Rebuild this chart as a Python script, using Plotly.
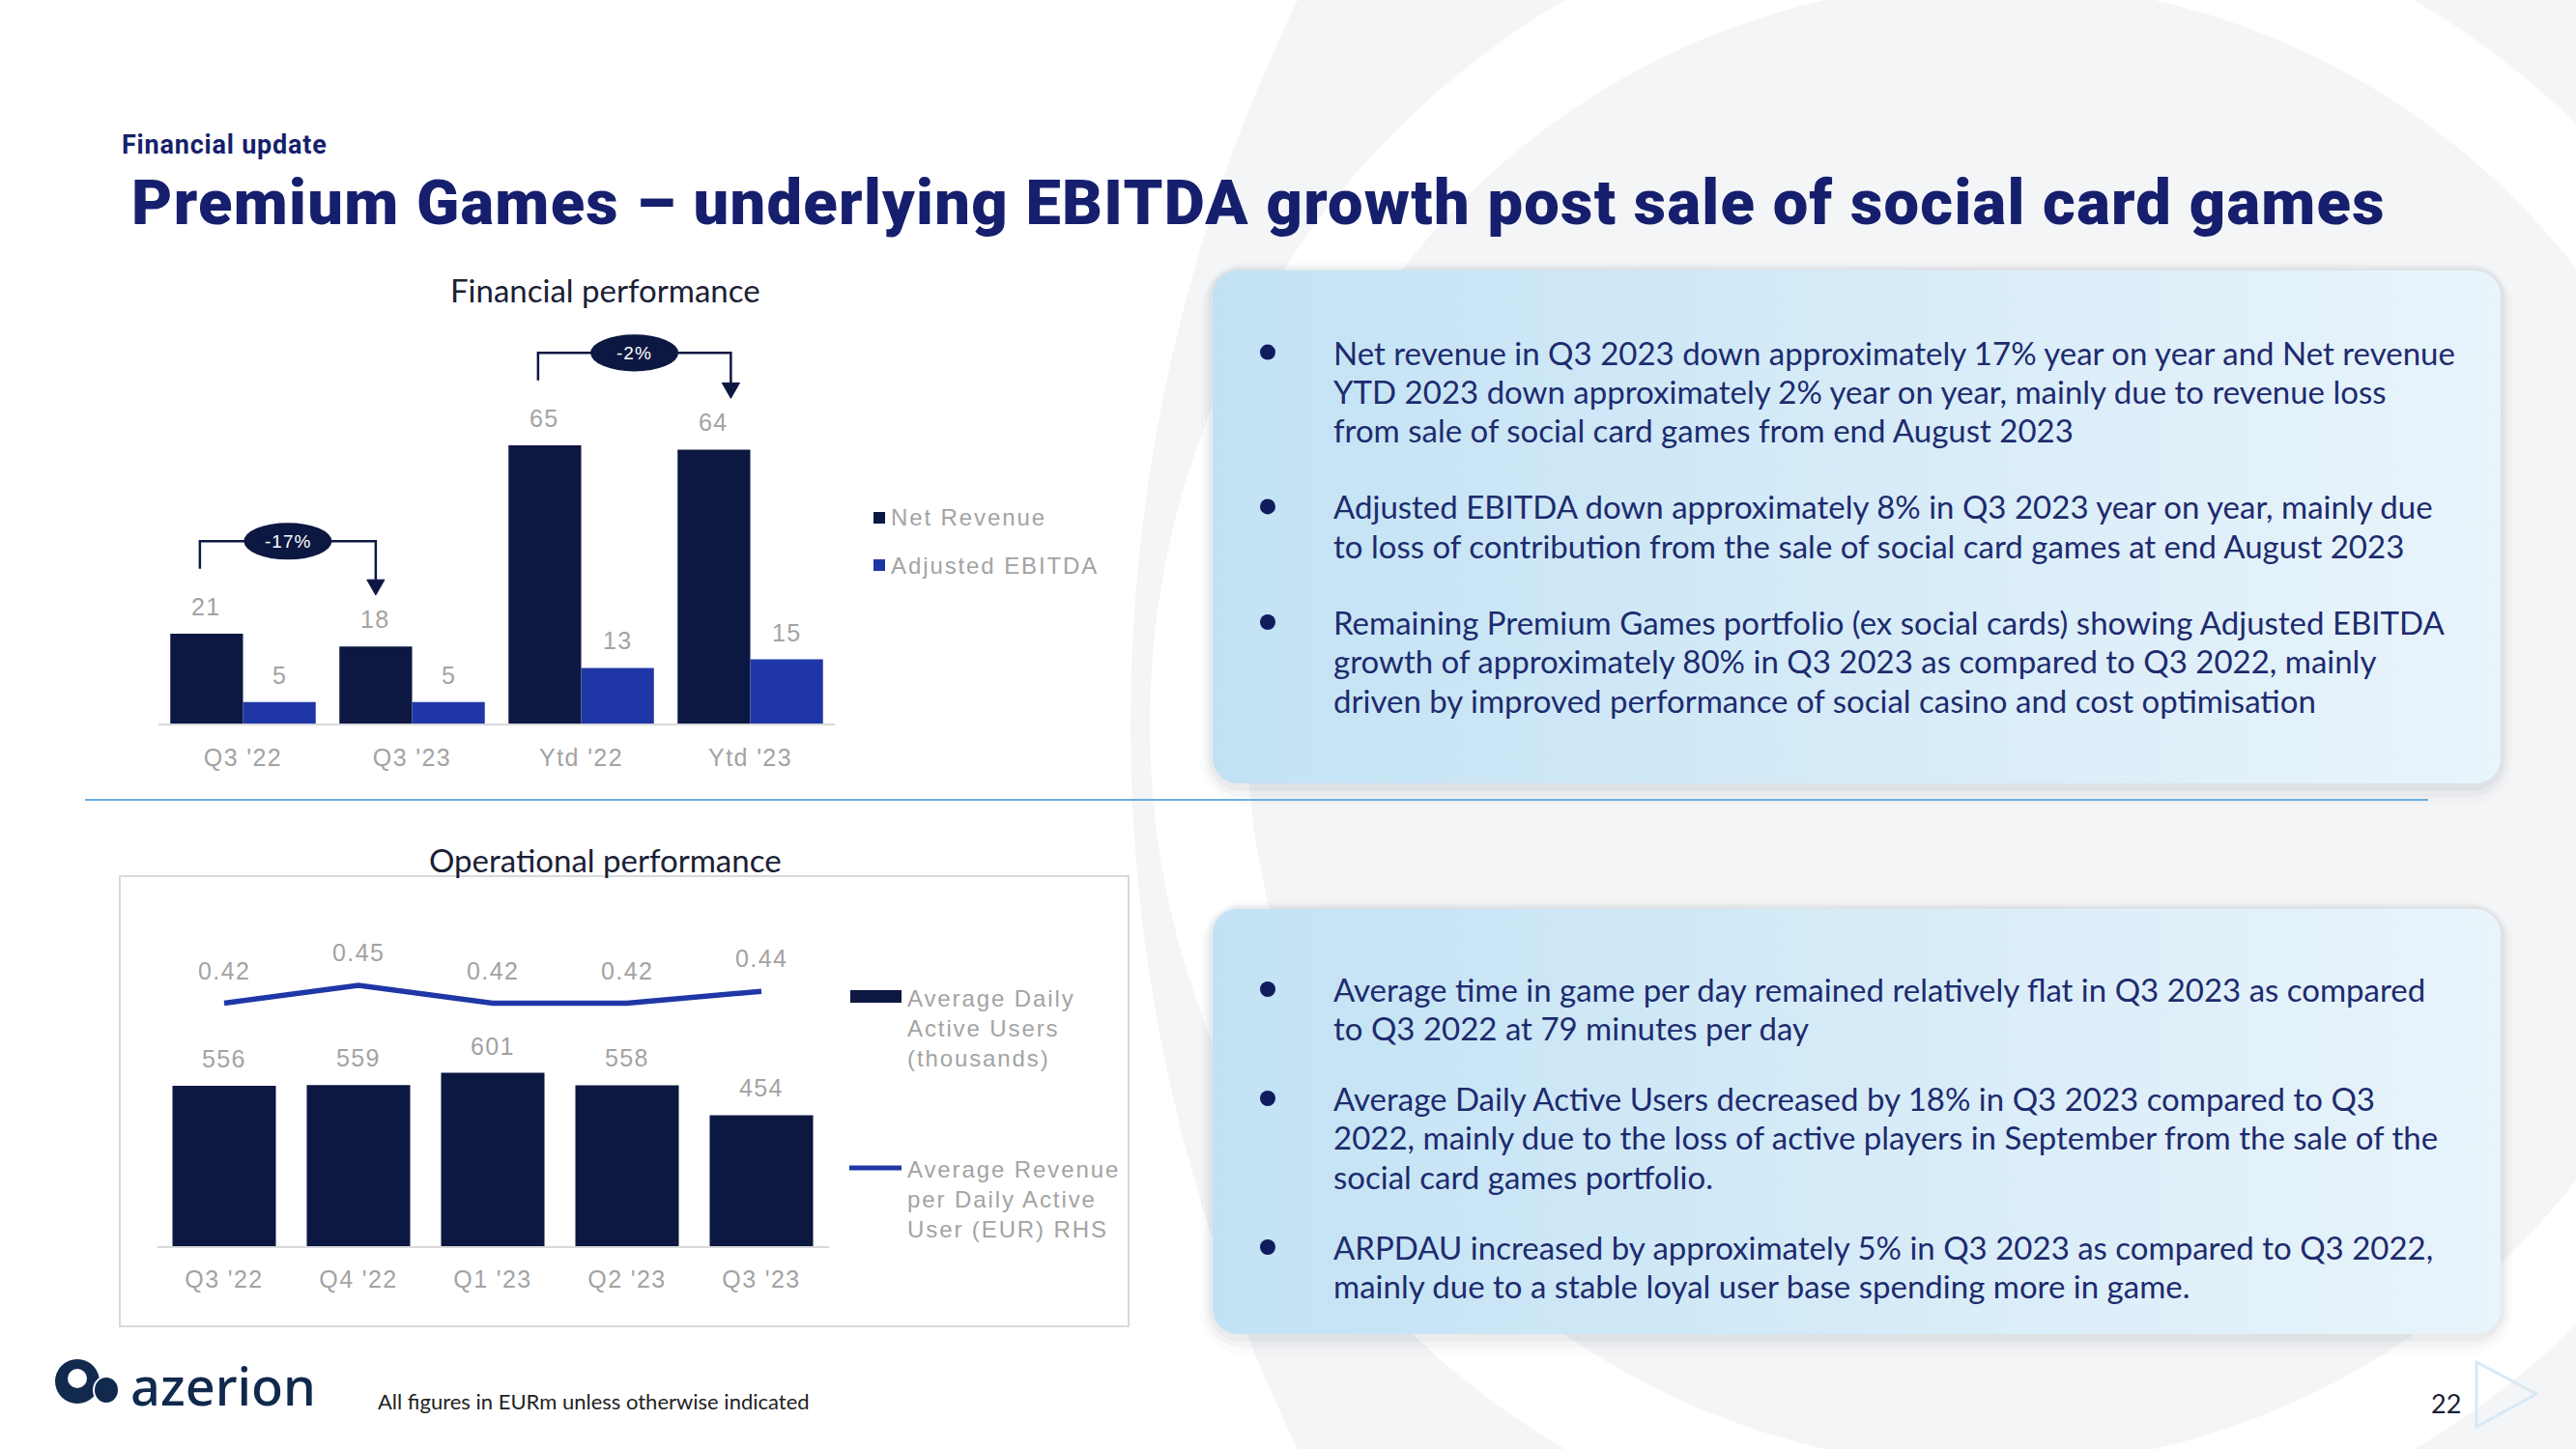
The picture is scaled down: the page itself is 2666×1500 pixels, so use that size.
import numpy as np
import plotly.graph_objects as go

W, H = 2666, 1500

# ---------------- data ----------------
fin_categories = ["Q3 '22", "Q3 '23", "Ytd '22", "Ytd '23"]
net_revenue = [21, 18, 65, 64]
adj_ebitda = [5, 5, 13, 15]
fin_changes = ["-17%", "-2%"]          # Q3'22 -> Q3'23, Ytd'22 -> Ytd'23
fin_change_pairs = [(0, 1), (2, 3)]

op_categories = ["Q3 '22", "Q4 '22", "Q1 '23", "Q2 '23", "Q3 '23"]
dau_thousands = [556, 559, 601, 558, 454]
arpdau_eur = [0.42, 0.45, 0.42, 0.42, 0.44]

fin_legend = ["Net Revenue", "Adjusted EBITDA"]
op_legend = ["Average Daily<br>Active Users<br>(thousands)",
             "Average Revenue<br>per Daily Active<br>User (EUR) RHS"]

bullets_top = [
    "Net revenue in Q3 2023 down approximately 17% year on year and Net revenue<br>"
    "YTD 2023 down approximately 2% year on year, mainly due to revenue loss<br>"
    "from sale of social card games from end August 2023",
    "Adjusted EBITDA down approximately 8% in Q3 2023 year on year, mainly due<br>"
    "to loss of contribution from the sale of social card games at end August 2023",
    "Remaining Premium Games portfolio (ex social cards) showing Adjusted EBITDA<br>"
    "growth of approximately 80% in Q3 2023 as compared to Q3 2022, mainly<br>"
    "driven by improved performance of social casino and cost optimisation",
]
bullets_bottom = [
    "Average time in game per day remained relatively flat in Q3 2023 as compared<br>"
    "to Q3 2022 at 79 minutes per day",
    "Average Daily Active Users decreased by 18% in Q3 2023 compared to Q3<br>"
    "2022, mainly due to the loss of active players in September from the sale of the<br>"
    "social card games portfolio.",
    "ARPDAU increased by approximately 5% in Q3 2023 as compared to Q3 2022,<br>"
    "mainly due to a stable loyal user base spending more in game.",
]

# ---------------- style ----------------
NAVY = "#0c1742"
BLUE = "#1f37a6"
LABEL_GRAY = "#a3a3a3"
AXIS_GRAY = "#d9d9d9"
TITLE_C = "#161f6d"
BODY_C = "#1d2b6e"
DARK = "#1a2035"
CHART_FONT = "Liberation Sans, Arial, sans-serif"
BODY_FONT = "Lato, 'Open Sans', sans-serif"
HEAD_FONT = "Roboto, Lato, sans-serif"
BARGAP = 0.14
LBL_SIZE, LBL_SP = 25, 1.4
LEG_SIZE, LEG_SP = 24, 1.9


def px(x):
    return x / W


def py(y):
    return 1 - y / H


def spaced(t, s=2):
    return f'<span style="letter-spacing:{s}px">{t}</span>'


def rrect(x0, y0, x1, y1, r, n=14):
    xs, ys = [], []
    for cx, cy, a0, a1 in [(x1 - r, y0 + r, -90, 0), (x1 - r, y1 - r, 0, 90),
                           (x0 + r, y1 - r, 90, 180), (x0 + r, y0 + r, 180, 270)]:
        t = np.radians(np.linspace(a0, a1, n))
        xs += list(cx + r * np.cos(t))
        ys += list(cy + r * np.sin(t))
    xs.append(xs[0])
    ys.append(ys[0])
    return xs, ys


def note(x, y, text, size, color, family=BODY_FONT, xanchor="center", **kw):
    return dict(x=px(x), y=py(y), xref="paper", yref="paper", text=text, showarrow=False,
                xanchor=xanchor, yanchor="middle", align="left",
                font=dict(family=family, size=size, color=color, **kw))


fig = go.Figure()

# ---------- decoration: text boxes with shadow + gradient ----------
boxes = [(1255, 280, 2588, 811), (1255, 941, 2588, 1381)]
for (x0, y0, x1, y1) in boxes:
    for k, a in [(20, 0.025), (13, 0.035), (7, 0.05)]:
        xs, ys = rrect(x0 - k * 0.6, y0 - k * 0.4, x1 + k * 0.6, y1 + k * 1.1, 26 + k)
        fig.add_trace(go.Scatter(x=xs, y=ys, mode="lines", line=dict(width=0),
                                 fill="toself", fillcolor=f"rgba(60,70,90,{a})",
                                 xaxis="x4", yaxis="y4", hoverinfo="skip", showlegend=False))
    xs, ys = rrect(x0, y0, x1, y1, 26)
    fig.add_trace(go.Scatter(x=xs, y=ys, mode="lines", line=dict(width=0),
                             fill="toself",
                             fillgradient=dict(type="horizontal",
                                               colorscale=[[0, "#c2e2f4"], [1, "#e9f4fb"]]),
                             xaxis="x4", yaxis="y4", hoverinfo="skip", showlegend=False))

# ---------- top chart: financial performance ----------
xi_fin = list(range(len(fin_categories)))
fig.add_trace(go.Bar(x=xi_fin, y=net_revenue, name=fin_legend[0], marker_color=NAVY,
                     marker_line_width=0, xaxis="x", yaxis="y", hoverinfo="skip",
                     showlegend=False))
fig.add_trace(go.Bar(x=xi_fin, y=adj_ebitda, name=fin_legend[1], marker_color=BLUE,
                     marker_line_width=0, xaxis="x", yaxis="y", hoverinfo="skip",
                     showlegend=False))

# ---------- bottom chart: operational performance ----------
xi_op = list(range(len(op_categories)))
fig.add_trace(go.Bar(x=xi_op, y=dau_thousands, width=0.77, marker_color=NAVY,
                     marker_line_width=0, xaxis="x2", yaxis="y2", hoverinfo="skip",
                     showlegend=False))
fig.add_trace(go.Scatter(x=xi_op, y=arpdau_eur, mode="lines",
                         line=dict(color=BLUE, width=5.5), xaxis="x2", yaxis="y3",
                         hoverinfo="skip", showlegend=False))

ann = []
shapes = []

# background ring decoration
shapes.append(dict(type="circle", xref="paper", yref="paper", layer="below",
                   x0=px(2882 - 1712), x1=px(2882 + 1712), y0=py(750 - 1712), y1=py(750 + 1712),
                   fillcolor="#f4f5f7", line=dict(width=0)))
shapes.append(dict(type="circle", xref="paper", yref="paper", layer="below",
                   x0=px(2059 - 819), x1=px(2059 + 819), y0=py(750 - 819), y1=py(750 + 819),
                   fillcolor="rgba(0,0,0,0)", line=dict(color="white", width=100)))
# bottom chart frame
shapes.append(dict(type="rect", xref="paper", yref="paper", layer="below",
                   x0=px(124), x1=px(1168), y0=py(907), y1=py(1373),
                   fillcolor="white", line=dict(color=AXIS_GRAY, width=2)))
# divider
shapes.append(dict(type="line", xref="paper", yref="paper",
                   x0=px(88), x1=px(2513), y0=py(828), y1=py(828),
                   line=dict(color="#6aaee0", width=2)))
# play triangle
shapes.append(dict(type="path", xref="paper", yref="paper", layer="below",
                   path=f"M {px(2563)},{py(1410)} L {px(2625)},{py(1443)} L {px(2563)},{py(1477)} Z",
                   line=dict(color="#d9e9f5", width=3)))

# data labels top chart
nr_off = -(1 - BARGAP) / 4
lbl_font = dict(family=CHART_FONT, size=LBL_SIZE, color=LABEL_GRAY)
for i in xi_fin:
    ann.append(dict(x=i + nr_off, y=net_revenue[i], xref="x", yref="y", yshift=28,
                    text=spaced(str(net_revenue[i]), LBL_SP), showarrow=False,
                    yanchor="middle", font=lbl_font))
    ann.append(dict(x=i - nr_off, y=adj_ebitda[i], xref="x", yref="y", yshift=28,
                    text=spaced(str(adj_ebitda[i]), LBL_SP), showarrow=False,
                    yanchor="middle", font=lbl_font))

# change brackets
dx_left = [-0.04, -0.04]
dx_right = [0.0, 0.1]
for k, ((a, b), lab) in enumerate(zip(fin_change_pairs, fin_changes)):
    xl = a + nr_off + dx_left[k]
    xr = b + nr_off + dx_right[k]
    yb = net_revenue[a] + 15.2
    yt = net_revenue[a] + 21.6
    tip = net_revenue[b] + 12.0
    ah = 3.6
    shapes.append(dict(type="path", xref="x", yref="y",
                       path=f"M {xl},{yb} L {xl},{yt} L {xr},{yt} L {xr},{tip + ah}",
                       line=dict(color=NAVY, width=2.5)))
    shapes.append(dict(type="path", xref="x", yref="y",
                       path=f"M {xr - 0.052},{tip + ah} L {xr + 0.052},{tip + ah} L {xr},{tip} Z",
                       fillcolor=NAVY, line=dict(color=NAVY, width=1)))
    xm = (xl + xr) / 2
    shapes.append(dict(type="circle", xref="x", yref="y",
                       x0=xm - 0.26, x1=xm + 0.26, y0=yt - 4.3, y1=yt + 4.3,
                       fillcolor=NAVY, line=dict(width=0)))
    ann.append(dict(x=xm, y=yt, xref="x", yref="y", text=spaced(lab, 1), showarrow=False,
                    yanchor="middle", font=dict(family=CHART_FONT, size=19, color="white")))

# data labels bottom chart
for i in xi_op:
    ann.append(dict(x=i, y=dau_thousands[i], xref="x2", yref="y2", yshift=28,
                    text=spaced(str(dau_thousands[i]), LBL_SP), showarrow=False,
                    yanchor="middle", font=lbl_font))
    ann.append(dict(x=i, y=arpdau_eur[i], xref="x2", yref="y3", yshift=34,
                    text=spaced(f"{arpdau_eur[i]:.2f}", LBL_SP), showarrow=False,
                    yanchor="middle", font=lbl_font))

# legends (manual)
for yc, col, lab in [(536, NAVY, fin_legend[0]), (585, BLUE, fin_legend[1])]:
    shapes.append(dict(type="rect", xref="paper", yref="paper", x0=px(904), x1=px(916),
                       y0=py(yc - 6), y1=py(yc + 6), fillcolor=col, line=dict(width=0)))
    ann.append(note(920, yc, spaced(lab, LEG_SP), LEG_SIZE, LABEL_GRAY, CHART_FONT, "left"))
shapes.append(dict(type="rect", xref="paper", yref="paper", x0=px(880), x1=px(933),
                   y0=py(1025), y1=py(1038), fillcolor=NAVY, line=dict(width=0)))
ann.append(note(937, 1064, spaced(op_legend[0], LEG_SP), LEG_SIZE, LABEL_GRAY, CHART_FONT, "left"))
shapes.append(dict(type="line", xref="paper", yref="paper", x0=px(879), x1=px(933),
                   y0=py(1209), y1=py(1209), line=dict(color=BLUE, width=5)))
ann.append(note(937, 1241, spaced(op_legend[1], LEG_SP), LEG_SIZE, LABEL_GRAY, CHART_FONT, "left"))

# headings
ann.append(note(124, 150, spaced("Financial update", 0.8), 27, TITLE_C, HEAD_FONT, "left",
                weight=700))
ann.append(note(134, 210,
                spaced("Premium Games – underlying EBITDA growth post sale of social card games", 1.3),
                65, TITLE_C, HEAD_FONT, "left", weight=900))
ann.append(note(626, 300, "Financial performance", 33, DARK))
ann.append(note(626, 890, "Operational performance", 33, DARK))

# bullets
LINE_STEP = 40.3
bullet_first = [364.6, 524.4, 644, 1024, 1137, 1291]
for txt, yf in zip(bullets_top + bullets_bottom, bullet_first):
    for j, line in enumerate(txt.split("<br>")):
        ann.append(note(1378, yf + j * LINE_STEP, line, 33, BODY_C, BODY_FONT, "left"))
    shapes.append(dict(type="circle", xref="paper", yref="paper",
                       x0=px(1304), x1=px(1320), y0=py(yf - 8), y1=py(yf + 8),
                       fillcolor="#0f1d5e", line=dict(width=0)))

# footer
ann.append(note(389, 1450, "All figures in EURm unless otherwise indicated", 22, "#222222",
                BODY_FONT, "left"))
ann.append(note(2531, 1452, "22", 27, DARK))
# logo
LOGO = "#10294d"
shapes.append(dict(type="circle", xref="paper", yref="paper", x0=px(57), x1=px(103),
                   y0=py(1407), y1=py(1453), fillcolor=LOGO, line=dict(width=0)))
shapes.append(dict(type="circle", xref="paper", yref="paper", x0=px(70), x1=px(90),
                   y0=py(1417), y1=py(1437), fillcolor="white", line=dict(width=0)))
shapes.append(dict(type="circle", xref="paper", yref="paper", x0=px(97), x1=px(123),
                   y0=py(1425), y1=py(1453), fillcolor=LOGO, line=dict(color="white", width=2)))
ann.append(note(133, 1434, "azerion", 54, LOGO, "'Noto Sans', sans-serif", "left", weight=500))

fig.update_layout(
    width=W, height=H, margin=dict(l=0, r=0, t=0, b=0),
    paper_bgcolor="white", plot_bgcolor="rgba(0,0,0,0)",
    barmode="group", bargap=BARGAP, bargroupgap=0,
    showlegend=False,
    annotations=ann, shapes=shapes,
    xaxis=dict(domain=[px(164), px(864)], range=[-0.5, 3.5], tickvals=xi_fin,
               ticktext=[spaced(c, LBL_SP) for c in fin_categories], showline=True,
               linecolor=AXIS_GRAY, linewidth=2, showgrid=False, zeroline=False,
               ticks="", ticklabelstandoff=12, fixedrange=True,
               tickfont=dict(family=CHART_FONT, size=LBL_SIZE, color=LABEL_GRAY), anchor="y"),
    yaxis=dict(domain=[py(749), py(330)], range=[0, (749 - 330) / 4.43], visible=False,
               fixedrange=True, anchor="x"),
    xaxis2=dict(domain=[px(162.5), px(857.5)], range=[-0.5, 4.5], tickvals=xi_op,
                ticktext=[spaced(c, LBL_SP) for c in op_categories], showline=True,
                linecolor=AXIS_GRAY, linewidth=2, showgrid=False, zeroline=False,
                ticks="", ticklabelstandoff=11, fixedrange=True,
                tickfont=dict(family=CHART_FONT, size=LBL_SIZE, color=LABEL_GRAY), anchor="y2"),
    yaxis2=dict(domain=[py(1290), py(940)], range=[0, 350 / 0.2985], visible=False,
                fixedrange=True, anchor="x2"),
    yaxis3=dict(overlaying="y2", side="right", anchor="x2",
                range=[0.42 - 251.5 / 617, 0.42 + 98.5 / 617], visible=False, fixedrange=True),
    xaxis4=dict(domain=[0, 1], range=[0, W], visible=False, anchor="y4", fixedrange=True),
    yaxis4=dict(domain=[0, 1], range=[H, 0], visible=False, anchor="x4", fixedrange=True),
)

fig.write_html("out.html", config={"displayModeBar": False})
